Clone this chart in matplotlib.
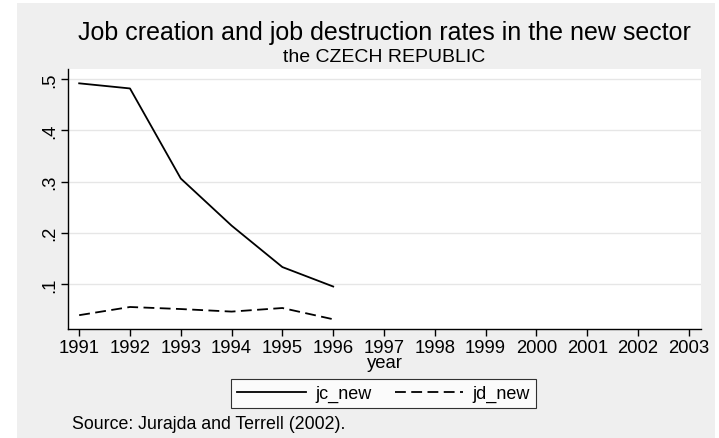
import numpy as np
import matplotlib
matplotlib.use("Agg")
import matplotlib.pyplot as plt

plt.rcParams['font.family'] = ['Liberation Sans', 'DejaVu Sans']

years = [1991, 1992, 1993, 1994, 1995, 1996]
jc_new = [0.492, 0.482, 0.306, 0.214, 0.133, 0.095]
jd_new = [0.039, 0.055, 0.051, 0.046, 0.053, 0.031]
xticks = list(range(1991, 2004))
yticks = [0.1, 0.2, 0.3, 0.4, 0.5]
ytick_labels = ['.1', '.2', '.3', '.4', '.5']

fig = plt.figure(figsize=(7.19, 4.39), dpi=100)
fig.patch.set_facecolor('white')
# stata style gray graph region
bg = plt.Rectangle((17 / 719, 0), (715 - 17) / 719, (439 - 4) / 439,
                   transform=fig.transFigure, facecolor='#efefef', edgecolor='none', zorder=-10)
fig.patches.append(bg)

ax = fig.add_axes([68 / 719, 1 - 330 / 439, (701 - 68) / 719, (330 - 70) / 439])
ax.set_facecolor('white')

ax.plot(years, jc_new, color='black', lw=1.3, label='jc_new')
ax.plot(years, jd_new, color='black', lw=1.3, ls=(0, (6, 3)), label='jd_new')

ax.set_xlim(1990.78, 2003.24)
ax.set_ylim(0.012, 0.52)
ax.set_xticks(xticks)
ax.set_xticklabels([str(y) for y in xticks], fontsize=13.3)
ax.set_yticks(yticks)
ax.set_yticklabels(ytick_labels, fontsize=13.3, rotation=90, va='center')
ax.grid(axis='y', color='#e6e6e6', lw=1)
ax.set_axisbelow(True)
for s in ['top', 'right']:
    ax.spines[s].set_visible(False)
ax.spines['left'].set_linewidth(1)
ax.spines['bottom'].set_linewidth(1)
ax.tick_params(length=5, width=1, color='black', pad=2)
ax.set_xlabel('year', fontsize=13.3, va='top')
ax.xaxis.set_label_coords(0.5, -0.098)

fig.text(384.5 / 719, 1 - 33 / 439, 'Job creation and job destruction rates in the new sector',
         ha='center', va='center', fontsize=18)
fig.text(384.5 / 719, 1 - 58 / 439, 'the CZECH REPUBLIC', ha='center', va='center', fontsize=14)

leg = fig.legend(loc='center', bbox_to_anchor=(383.5 / 719, 1 - 394.5 / 439), ncol=2,
                 fontsize=13, frameon=True, fancybox=False, handlelength=3.8,
                 handletextpad=0.5, columnspacing=1.3, borderpad=0.35, borderaxespad=0)
leg.get_frame().set_edgecolor('black')
leg.get_frame().set_linewidth(0.8)
leg.get_frame().set_facecolor('white')

fig.text(72 / 719, 1 - 425 / 439, 'Source: Jurajda and Terrell (2002).', ha='left', va='center',
         fontsize=12.8)

fig.savefig('out.png', dpi=100)
